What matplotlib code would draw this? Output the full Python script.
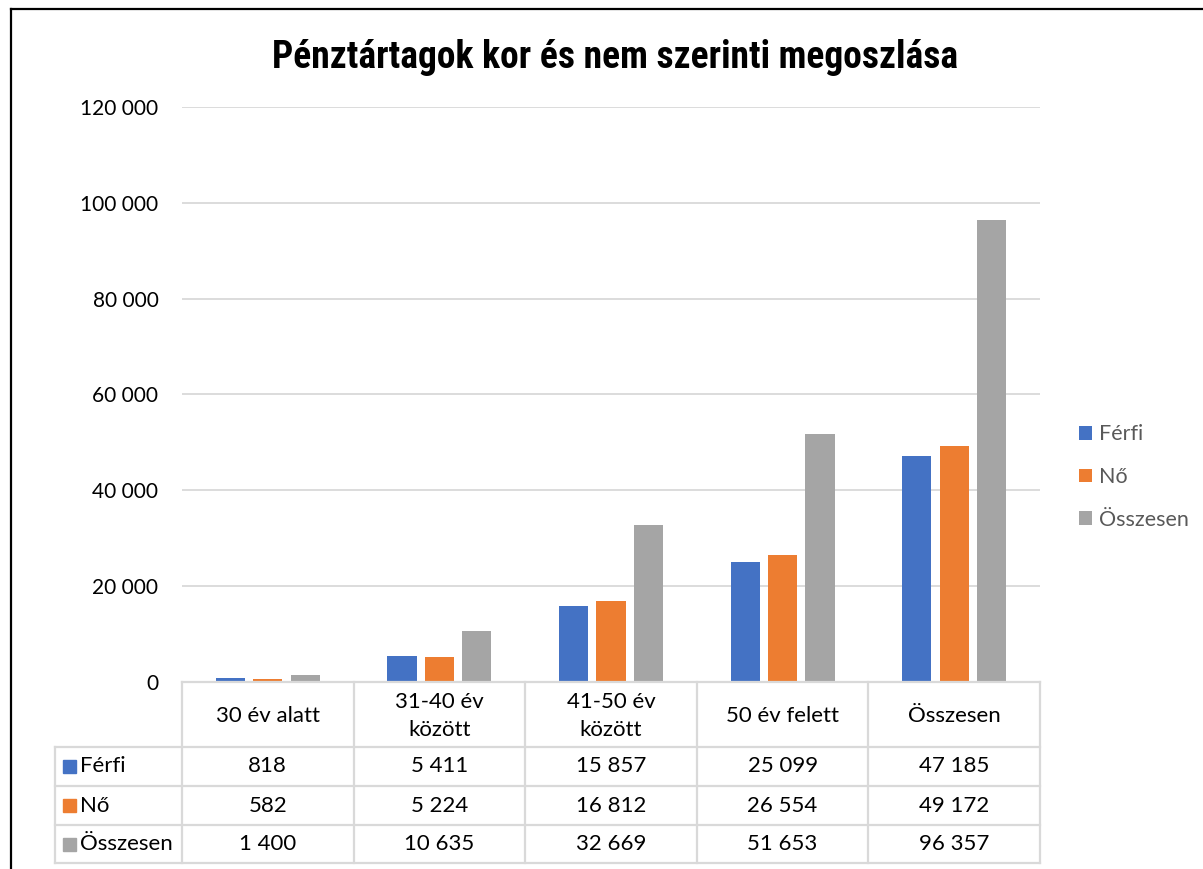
import numpy as np
import matplotlib
matplotlib.use("Agg")
import matplotlib.pyplot as plt
from matplotlib import transforms
from matplotlib.lines import Line2D
from matplotlib.patches import Rectangle

# ---- data ----
categories = ["30 év alatt", "31-40 év\nközött", "41-50 év\nközött", "50 év felett", "Összesen"]
series_names = ["Férfi", "Nő", "Összesen"]
ferfi = [818, 5411, 15857, 25099, 47185]
no = [582, 5224, 16812, 26554, 49172]
osszesen = [1400, 10635, 32669, 51653, 96357]
yticks = [0, 20000, 40000, 60000, 80000, 100000, 120000]
colors = ["#4472C4", "#ED7D31", "#A5A5A5"]
title = "Pénztártagok kor és nem szerinti megoszlása"

def fmt(v):
    return f"{v:,}".replace(",", " ")

W, H = 1203, 869
plt.rcParams["font.family"] = ["Lato", "DejaVu Sans"]
fig = plt.figure(figsize=(W / 100, H / 100), dpi=100)
PX = transforms.Affine2D().scale(1 / W, -1 / H).translate(0, 1) + fig.transFigure

ax = fig.add_axes([182 / W, 1 - 682 / H, 858 / W, 575 / H])
x = np.arange(len(categories))
bw, step = 0.17, 0.218
series = [ferfi, no, osszesen]
bars = []
for i, (vals, c) in enumerate(zip(series, colors)):
    bars.append(ax.bar(x + (i - 1) * step, vals, bw, color=c, label=series_names[i], zorder=3))
ax.set_xlim(-0.5, len(categories) - 0.5)
ax.set_ylim(0, 120000)
ax.set_yticks(yticks)
ax.set_yticklabels([fmt(v) for v in yticks])
ax.set_xticks([])
ax.yaxis.grid(True, color="#D9D9D9", lw=1.3)
ax.set_axisbelow(True)
for s in ax.spines.values():
    s.set_visible(False)
ax.tick_params(axis="y", length=0, pad=17, labelsize=15, labelcolor="black")

# ---- data table ----
line_c = "#D9D9D9"
lw = 1.6
fs = 16
col_edges = [ax.transData.transform((i - 0.5, 0))[0] for i in range(len(categories) + 1)]
H_top = 682
row_edges = [747, 786, 825, 863]
left_x = 55

def hline(x0, x1, y):
    fig.add_artist(Line2D([x0, x1], [y, y], transform=PX, color=line_c, lw=lw))

def vline(xx, y0, y1):
    fig.add_artist(Line2D([xx, xx], [y0, y1], transform=PX, color=line_c, lw=lw))

hline(col_edges[0], col_edges[-1], H_top)
for y in row_edges:
    hline(left_x, col_edges[-1], y)
vline(left_x, row_edges[0], row_edges[-1])
for xe in col_edges:
    vline(xe, H_top, row_edges[-1])

for i, cat in enumerate(categories):
    cx = (col_edges[i] + col_edges[i + 1]) / 2
    fig.text(cx, (H_top + row_edges[0]) / 2 + 1, cat, transform=PX, ha="center", va="center",
             fontsize=fs, color="black", linespacing=1.5)

for r, (name, vals, c) in enumerate(zip(series_names, series, colors)):
    cy = (row_edges[r] + row_edges[r + 1]) / 2
    fig.add_artist(Rectangle((63, cy - 6.5), 13, 13, transform=PX, color=c))
    fig.text(80, cy, name, transform=PX, ha="left", va="center", fontsize=fs, color="black")
    for i, v in enumerate(vals):
        cx = (col_edges[i] + col_edges[i + 1]) / 2
        fig.text(cx, cy, fmt(v), transform=PX, ha="center", va="center", fontsize=fs, color="black")

# ---- legend ----
leg = fig.legend(handles=bars, labels=series_names, loc="center left",
                 bbox_to_anchor=(1070 / W, 1 - 477 / H), frameon=False,
                 fontsize=15.5, labelcolor="#595959", handlelength=0.6, handleheight=0.6,
                 handletextpad=0.35, labelspacing=1.05, borderaxespad=0)

# ---- title (fit to reference width) ----
t = fig.text(615, 68, title, transform=PX, ha="center", va="baseline",
             fontsize=30, fontweight="heavy", fontstretch="condensed",
             family=["Roboto Condensed", "DejaVu Sans"], color="black")
r = fig.canvas.get_renderer()
wpx = t.get_window_extent(renderer=r).width
t.set_fontsize(30 * 686 / wpx)

# ---- outer border ----
fig.add_artist(Line2D([11, 11], [9, H], transform=PX, color="black", lw=1.6))
fig.add_artist(Line2D([11, W], [9, 9], transform=PX, color="black", lw=1.6))

fig.savefig("out.png", dpi=100, facecolor="white")
